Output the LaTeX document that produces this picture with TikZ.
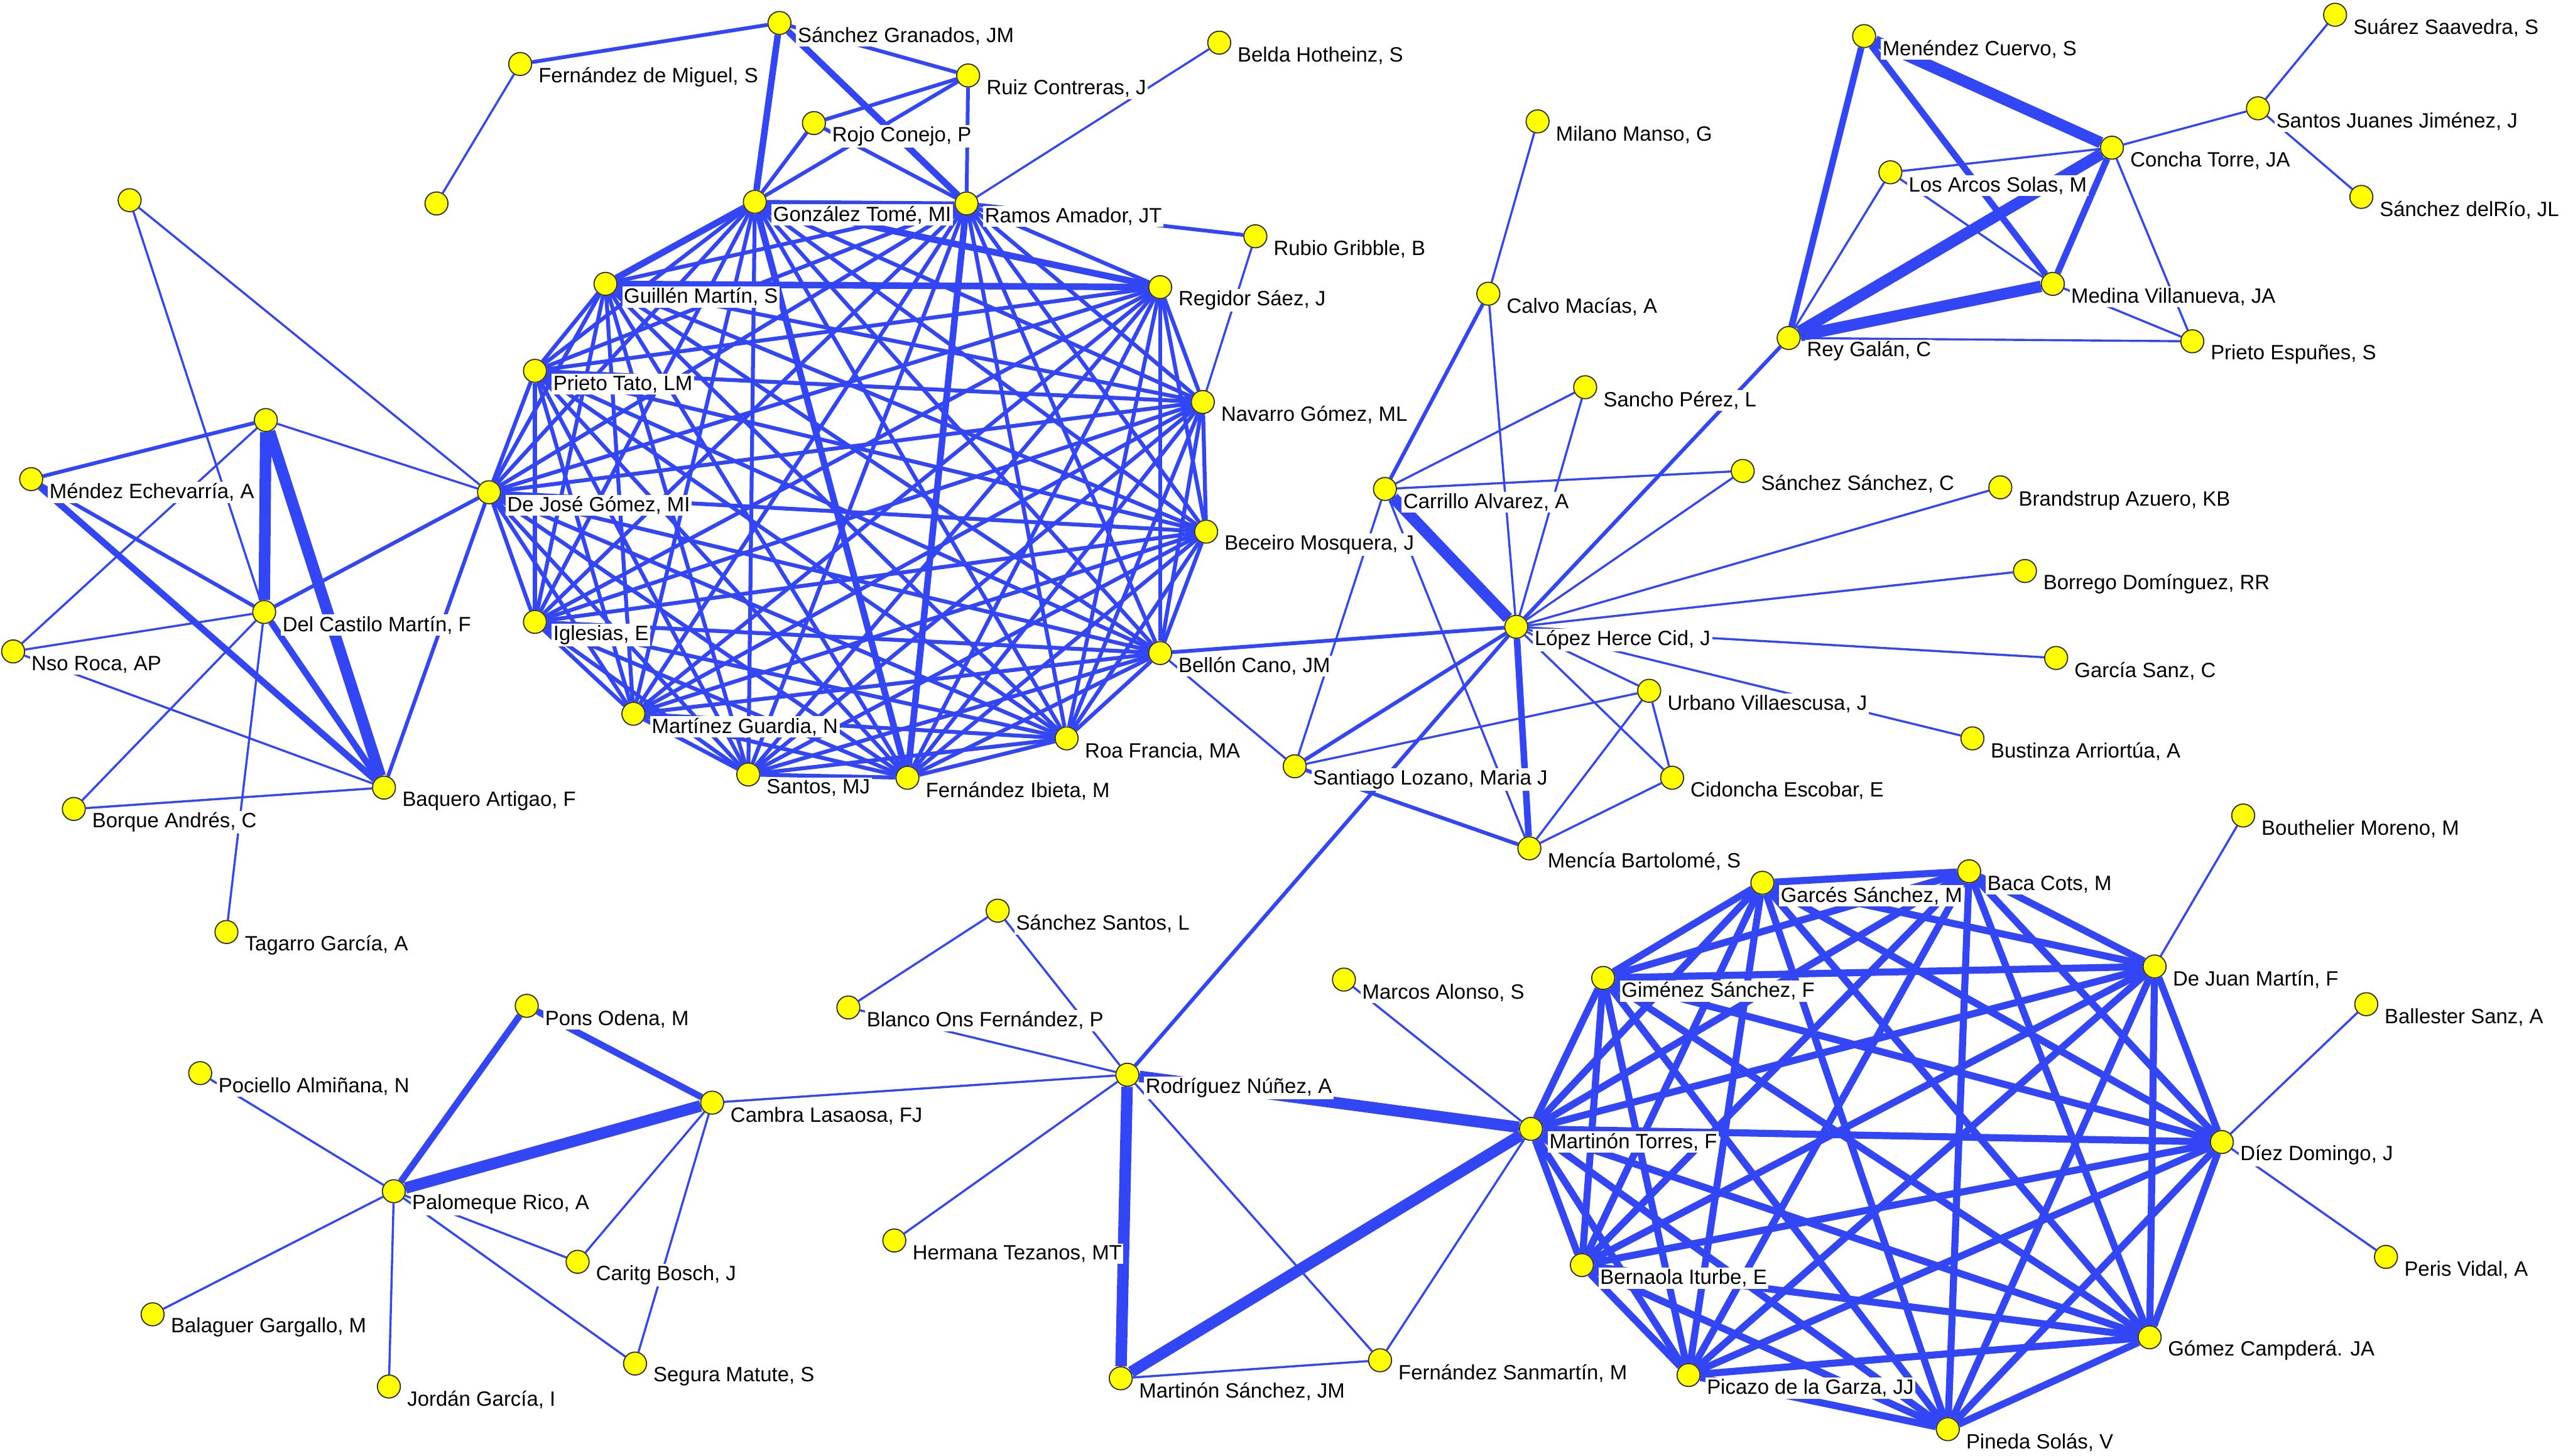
\documentclass[tikz,border=0pt]{standalone}
\usepackage{fontspec}
\setmainfont{Liberation Sans}
\definecolor{edgeblue}{RGB}{50,70,245}
\definecolor{dotyellow}{RGB}{255,255,0}
\pgfdeclarelayer{bg}
\pgfsetlayers{bg,main}

\begin{document}
\begin{tikzpicture}[x=1pt,y=1pt,yscale=-1,
  dot/.style={circle,draw=black!80,line width=0.7pt,fill=dotyellow,minimum size=14pt,inner sep=0pt},
  lbl/.style={anchor=west,fill=white,inner sep=1pt,font=\fontsize{12.6}{14}\selectfont},
  link1/.style={draw=edgeblue,line width=1.3pt},
  link2/.style={draw=edgeblue,line width=2.3pt},
  link3/.style={draw=edgeblue,line width=4pt},
  link4/.style={draw=edgeblue,line width=7pt},
  ringA/.style={draw=edgeblue,line width=2.4pt},
  ringB/.style={draw=edgeblue,line width=4.3pt}]
\useasboundingbox (0,0) rectangle (1568,887);

% authors without label
\node[dot] (u1) at (79,122) {};
\node[dot] (u2) at (266,124) {};
\node[dot] (u3) at (162,256) {};

% authors with label
\foreach \n/\x/\y/\txt in {
  fm/317/39/{Fernández de Miguel, S}, sg/475/14/{Sánchez Granados, JM},
  rc/590/46/{Ruiz Contreras, J}, rj/496/75/{Rojo Conejo, P},
  bh/743/26/{Belda Hotheinz, S}, gt/460/123/{González Tomé, MI},
  ra/589/124/{Ramos Amador, JT}, rg/765/144/{Rubio Gribble, B},
  gm/369/173/{Guillén Martín, S}, rs/707/175/{Regidor Sáez, J},
  pt/326/226/{Prieto Tato, LM}, ng/733/245/{Navarro Gómez, ML},
  dj/298/300/{De José Gómez, MI}, bm/735/324/{Beceiro Mosquera, J},
  ie/326/379/{Iglesias, E}, bc/707/398/{Bellón Cano, JM},
  mg/386/435/{Martínez Guardia, N}, rf/650/450/{Roa Francia, MA},
  sm/456/472/{Santos, MJ}, fi/553/474/{Fernández Ibieta, M},
  me/19/292/{Méndez Echevarría, A}, dc/161/373/{Del Castilo Martín, F},
  nr/8/397/{Nso Roca, AP}, ba/234/480/{Baquero Artigao, F},
  bo/45/493/{Borque Andrés, C}, tg/138/568/{Tagarro García, A},
  mm/937/74/{Milano Manso, G}, cm/907/179/{Calvo Macías, A},
  sp/966/236/{Sancho Pérez, L}, ca/844/298/{Carrillo Alvarez, A},
  ss/1062/287/{Sánchez Sánchez, C}, bz/1219/297/{Brandstrup Azuero, KB},
  bd/1234/348/{Borrego Domínguez, RR}, lh/924/382/{López Herce Cid, J},
  gsz/1253/401/{García Sanz, C}, uv/1005/421/{Urbano Villaescusa, J},
  bu/1202/450/{Bustinza Arriortúa, A}, sl/789/467/{Santiago Lozano, Maria J},
  ce/1019/474/{Cidoncha Escobar, E}, mb/932/517/{Mencía Bartolomé, S},
  mc/1136/22/{Menéndez Cuervo, S}, su/1423/9/{Suárez Saavedra, S},
  sj/1376/66/{Santos Juanes Jiménez, J}, ct/1287/90/{Concha Torre, JA},
  la/1152/105/{Los Arcos Solas, M}, sr/1439/120/{Sánchez delRío, JL},
  mv/1251/173/{Medina Villanueva, JA}, rey/1090/206/{Rey Galán, C},
  pe/1336/208/{Prieto Espuñes, S}, gs/1074/538/{Garcés Sánchez, M},
  bac/1200/531/{Baca Cots, M}, bt/1367/497/{Bouthelier Moreno, M},
  djm/1313/589/{De Juan Martín, F}, gim/977/596/{Giménez Sánchez, F},
  bl/1442/612/{Ballester Sanz, A}, dd/1354/696/{Díez Domingo, J},
  mt/933/688/{Martinón Torres, F}, pv/1454/766/{Peris Vidal, A},
  bi/964/771/{Bernaola Iturbe, E}, gc/1310/815/{Gómez Campderá. JA},
  pg/1029/838/{Picazo de la Garza, JJ}, ps/1187/871/{Pineda Solás, V},
  sst/608/555/{Sánchez Santos, L}, bof/517/614/{Blanco Ons Fernández, P},
  ma/819/597/{Marcos Alonso, S}, rn/687/655/{Rodríguez Núñez, A},
  ht/545/756/{Hermana Tezanos, MT}, ms/683/840/{Martinón Sánchez, JM},
  fs/841/829/{Fernández Sanmartín, M}, po/321/613/{Pons Odena, M},
  pa/122/654/{Pociello Almiñana, N}, cl/434/672/{Cambra Lasaosa, FJ},
  pr/240/726/{Palomeque Rico, A}, cb/352/769/{Caritg Bosch, J},
  bg/93/801/{Balaguer Gargallo, M}, smt/387/831/{Segura Matute, S},
  jg/237/845/{Jordán García, I}}
{
  \node[dot] (\n) at (\x,\y) {};
  \node[lbl] (\n-l) at (\x+10,\y+8) {\txt};
}

\begin{pgfonlayer}{bg}
% left ring, every pair
\foreach \a [count=\i] in {gt,ra,rs,ng,bm,bc,rf,fi,sm,mg,ie,dj,pt,gm}
  \foreach \b [count=\j] in {gt,ra,rs,ng,bm,bc,rf,fi,sm,mg,ie,dj,pt,gm}
    {\ifnum\j>\i \draw[ringA] (\a) -- (\b); \fi}
\foreach \a/\b in {gt/gm,gt/fi,gt/rs,ra/fi,gm/rs}
  \draw[link3] (\a) -- (\b);
% right ring, every pair
\foreach \a [count=\i] in {gs,bac,djm,dd,gc,ps,pg,bi,mt,gim}
  \foreach \b [count=\j] in {gs,bac,djm,dd,gc,ps,pg,bi,mt,gim}
    {\ifnum\j>\i \draw[ringB] (\a) -- (\b); \fi}

\foreach \a/\b in {fm/u2,u1/dc,u1/dj,u3/dj,nr/u3,nr/dc,nr/ba,bo/dc,bo/ba,tg/dc,
  bh/ra,rg/ng,mm/cm,cm/lh,sp/ca,sp/lh,ca/sl,ca/mb,ca/ss,lh/ss,lh/bz,lh/bd,
  lh/gsz,lh/bu,lh/uv,lh/ce,sl/uv,uv/ce,uv/mb,ce/mb,bc/sl,
  la/rey,la/mv,la/ct,ct/pe,mv/pe,rey/pe,sj/su,sj/sr,ct/sj,
  sst/bof,sst/rn,bof/rn,rn/ht,rn/fs,ma/mt,mt/fs,ms/fs,cl/rn,
  pa/pr,pr/cb,pr/smt,pr/bg,pr/jg,cl/cb,cl/smt,bt/djm,bl/dd,pv/dd}
  \draw[link1] (\a) -- (\b);
\foreach \a/\b in {fm/sg,sg/rc,rc/rj,rc/ra,rc/gt,rj/gt,rj/ra,ra/rg,dc/dj,ba/dj,
  me/dc,me/u3,lh/bc,rn/lh,sl/mb,cm/ca,lh/rey,lh/sl}
  \draw[link2] (\a) -- (\b);
\foreach \a/\b in {sg/gt,sg/ra,me/ba,dc/ba,lh/mb,mc/rey,mc/mv,ct/mv,po/pr,po/cl}
  \draw[link3] (\a) -- (\b);
\foreach \a/\b in {u3/dc,u3/ba,ca/lh,mc/ct,rey/ct,rey/mv,rn/mt,rn/ms,ms/mt,cl/pr}
  \draw[link4] (\a) -- (\b);
\end{pgfonlayer}
\end{tikzpicture}
\end{document}
